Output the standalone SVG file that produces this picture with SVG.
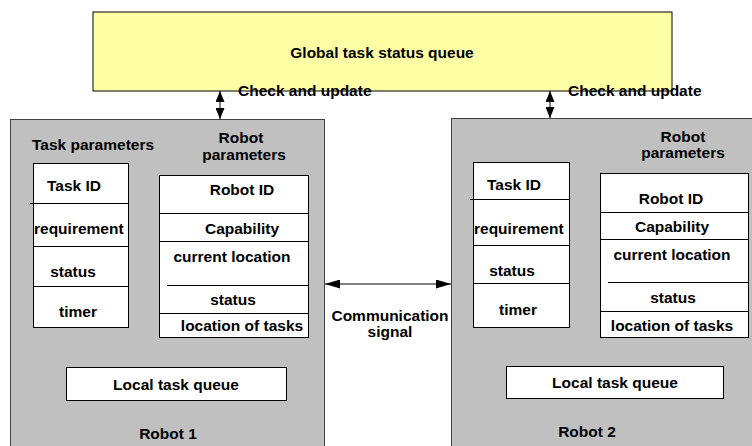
<svg xmlns="http://www.w3.org/2000/svg" width="752" height="446" viewBox="0 0 752 446">
  <defs>
    <style>
      text { font-family: "Liberation Sans", Arial, sans-serif; font-weight: bold; font-size: 15.5px; fill: #000; }
      .mid { text-anchor: middle; }
      .robot { fill: #c0c0c0; stroke: #404040; stroke-width: 1; }
      .table { fill: #fff; stroke: #000; stroke-width: 1; }
      .row { stroke: #000; stroke-width: 1; fill: none; }
      .vlink { stroke: #000; stroke-width: 1; fill: none; marker-start: url(#head-s); marker-end: url(#head-s); }
      .hlink { stroke: #000; stroke-width: 1; fill: none; marker-start: url(#head-l); marker-end: url(#head-l); }
    </style>
    <marker id="head-s" viewBox="0 0 11 9" refX="11" refY="4.5" markerWidth="11" markerHeight="9" markerUnits="userSpaceOnUse" orient="auto-start-reverse">
      <path d="M0,0 L11,4.5 L0,9 Z" fill="#000"/>
    </marker>
    <marker id="head-l" viewBox="0 0 15 9" refX="15" refY="4.5" markerWidth="15" markerHeight="9" markerUnits="userSpaceOnUse" orient="auto-start-reverse">
      <path d="M0,0 L15,4.5 L0,9 Z" fill="#000"/>
    </marker>
  </defs>

  <rect width="752" height="446" fill="#fff"/>

  <!-- shared queue -->
  <g id="global-queue">
    <rect x="93" y="12" width="579" height="79" fill="#ffffa6" stroke="#000" stroke-width="1"/>
    <text class="mid" x="382" y="58">Global task status queue</text>
  </g>

  <!-- robot 1 -->
  <g id="robot1">
    <rect class="robot" x="10.5" y="119.5" width="314" height="340"/>
    <text class="mid" x="168" y="439">Robot 1</text>
  </g>
  <g id="robot1-task-params">
    <text x="32" y="150">Task parameters</text>
    <rect class="table" x="33.5" y="163.5" width="95" height="164"/>
    <path class="row" d="M30,203.5 H128.5 M33.5,246.5 H128.5 M33.5,286.5 H128.5"/>
    <text class="mid" x="74" y="191">Task ID</text>
    <text x="34" y="234">requirement</text>
    <text class="mid" x="73" y="277">status</text>
    <text class="mid" x="78" y="317">timer</text>
  </g>
  <g id="robot1-robot-params">
    <text class="mid" x="241" y="143">Robot</text>
    <text class="mid" x="244" y="160">parameters</text>
    <rect class="table" x="159.5" y="175.5" width="149" height="162"/>
    <path class="row" d="M159.5,213.5 H308.5 M159.5,241.5 H308.5 M167,285.5 H308.5 M159.5,313.5 H308.5"/>
    <text class="mid" x="242" y="195">Robot ID</text>
    <text class="mid" x="242" y="234">Capability</text>
    <text class="mid" x="232" y="262">current location</text>
    <text class="mid" x="233" y="305">status</text>
    <text class="mid" x="242" y="331">location of tasks</text>
  </g>
  <g id="robot1-local-queue">
    <rect class="table" x="66.5" y="367.5" width="220" height="33"/>
    <text class="mid" x="176" y="390">Local task queue</text>
  </g>

  <!-- robot 2 -->
  <g id="robot2">
    <rect class="robot" x="451.5" y="118.5" width="320" height="340"/>
    <text class="mid" x="587" y="437">Robot 2</text>
  </g>
  <g id="robot2-task-params">
    <rect class="table" x="473.5" y="162.5" width="96" height="165"/>
    <path class="row" d="M470,199.5 H569.5 M473.5,245.5 H569.5 M473.5,283.5 H569.5"/>
    <text class="mid" x="514" y="190">Task ID</text>
    <text x="474" y="234">requirement</text>
    <text class="mid" x="512" y="276">status</text>
    <text class="mid" x="518" y="315">timer</text>
  </g>
  <g id="robot2-robot-params">
    <text class="mid" x="683" y="142">Robot</text>
    <text class="mid" x="683" y="158">parameters</text>
    <rect class="table" x="600.5" y="173.5" width="148" height="164"/>
    <path class="row" d="M600.5,212.5 H748.5 M600.5,239.5 H748.5 M608,282.5 H748.5 M600.5,311.5 H748.5"/>
    <text class="mid" x="671" y="204">Robot ID</text>
    <text class="mid" x="672" y="232">Capability</text>
    <text class="mid" x="672" y="260">current location</text>
    <text class="mid" x="673" y="303">status</text>
    <text class="mid" x="672" y="331">location of tasks</text>
  </g>
  <g id="robot2-local-queue">
    <rect class="table" x="506.5" y="366.5" width="217" height="32"/>
    <text class="mid" x="615" y="388">Local task queue</text>
  </g>

  <!-- connectors -->
  <g id="connectors">
    <line class="vlink" x1="220" y1="91" x2="220" y2="119"/>
    <line class="vlink" x1="550" y1="91" x2="550" y2="118"/>
    <line class="hlink" x1="325" y1="284" x2="451" y2="284"/>
  </g>
  <g id="connector-labels">
    <text x="238" y="96">Check and update</text>
    <text x="568" y="96">Check and update</text>
    <text class="mid" x="390" y="321">Communication</text>
    <text class="mid" x="390" y="337">signal</text>
  </g>
</svg>
